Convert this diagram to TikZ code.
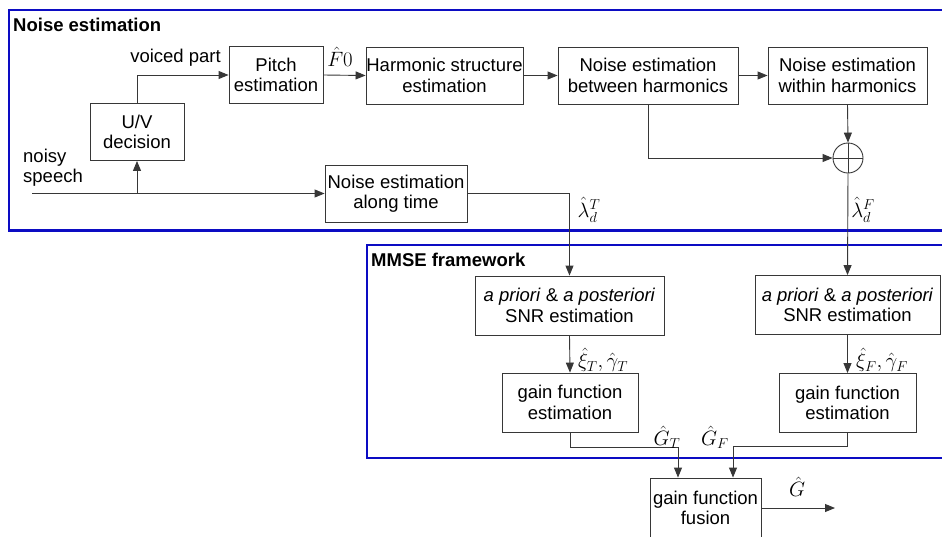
\documentclass[tikz,border=0pt]{standalone}
\usepackage{fontspec}
\setmainfont{Liberation Sans}
\usetikzlibrary{arrows.meta,calc,positioning}

\definecolor{framecol}{RGB}{12,12,195}
\definecolor{linecol}{RGB}{55,55,55}

\tikzset{
    blockbox/.style={draw=linecol, line width=0.9pt, align=center, inner sep=0pt, minimum height=57},
    arr/.style={draw=linecol, line width=0.9pt, -{Triangle[length=10pt,width=8pt]}},
    wire/.style={draw=linecol, line width=0.9pt},
    groupbox/.style={draw=framecol, line width=2.6pt},
    grouptitle/.style={anchor=west, inner sep=0pt},
    lbl/.style={inner sep=0pt},
    mathlbl/.style={inner sep=0pt, font=\fontsize{22}{24}\selectfont}
}

\begin{document}
\begin{tikzpicture}[x=1pt, y=-1pt, font=\fontsize{18.5}{20.5}\selectfont]
    \clip (0,0) rectangle (942,536);
    \fill[white] (0,0) rectangle (942,536);

    % Frames
    \draw[groupbox] (960,10) -- (9,10) -- (9,230.5) -- (960,230.5);
    \draw[groupbox] (960,245) -- (367,245) -- (367,458) -- (960,458);
    \node[grouptitle] (ttlnoise) at (13,25) {\bfseries Noise estimation};
    \node[grouptitle] (ttlmmse) at (371,260) {\bfseries MMSE framework};

    % Noise estimation blocks
    \node[blockbox, minimum width=94] (uv) at (137,132) {U/V\\decision};
    \node[blockbox, minimum width=94] (pitch) at (276,75) {Pitch\\estimation};
    \node[blockbox, minimum width=157] (harm) at (444.5,75.5) {Harmonic structure\\estimation};
    \node[blockbox, minimum width=180] (betw) at (648,75.5) {Noise estimation\\between harmonics};
    \node[blockbox, minimum width=159] (within) at (847.5,75.5) {Noise estimation\\within harmonics};
    \node[blockbox, minimum width=142] (alongt) at (396,193.5) {Noise estimation\\along time};
    \node[draw=linecol, line width=0.9pt, circle, minimum size=30, inner sep=0pt] (sum) at (848,158) {};
    \draw[wire] (sum.north) -- (sum.south) (sum.west) -- (sum.east);

    % MMSE blocks
    \node[blockbox, minimum width=189, minimum height=59] (snrT) at (569.5,305.5) {\textit{a priori} \& \textit{a posteriori}\\SNR estimation};
    \node[blockbox, minimum width=185, minimum height=59] (snrF) at (847.5,305) {\textit{a priori} \& \textit{a posteriori}\\SNR estimation};
    \node[blockbox, minimum width=136, minimum height=59] (gainT) at (570,402.5) {gain function\\estimation};
    \node[blockbox, minimum width=137, minimum height=59] (gainF) at (847.5,403) {gain function\\estimation};
    \node[blockbox, minimum width=111, minimum height=60] (fusion) at (705.5,508) {gain function\\fusion};

    % Input and free ends
    \coordinate (in) at (32,193.5);
    \coordinate (split) at (137,193.5);
    \coordinate (gout) at (835,508);
    \node[lbl, align=left, anchor=west] (noisy) at (23,167.5) {noisy\\speech};

    % Connectors
    \draw[arr] (in) -- (alongt.west);
    \draw[arr] (split) -- (uv.south);
    \draw[arr] (uv.north) |- (pitch.west);
    \draw[arr] (pitch.east) -- (harm.west);
    \draw[arr] (harm.east) -- (betw.west);
    \draw[arr] (betw.east) -- (within.west);
    \draw[arr] (within.south) -- (sum.north);
    \draw[arr] (betw.south) |- (sum.west);
    \draw[arr] (alongt.east) -| (snrT.north);
    \draw[arr] (sum.south) -- (snrF.north);
    \draw[arr] (snrT.south) -- (gainT.north);
    \draw[arr] (snrF.south) -- (gainF.north);
    \draw[arr] (gainT.south) -- ++(0,15) -| ($(fusion.north)+(-27.5,0)$);
    \draw[arr] (gainF.south) -- ++(0,13) -| ($(fusion.north)+(27.5,0)$);
    \draw[arr] (fusion.east) -- (gout);

    % Signal labels
    \node[lbl] (voiced) at (175.5,58) {voiced part};
    \node[mathlbl] (f0) at (340,57) {$\hat{F}0$};
    \node[mathlbl] (lamT) at (589,210) {$\hat{\lambda}_d^T$};
    \node[mathlbl] (lamF) at (863,210) {$\hat{\lambda}_d^F$};
    \node[mathlbl] (xgT) at (603,360) {$\hat{\xi}_T,\hat{\gamma}_T$};
    \node[mathlbl] (xgF) at (882,360) {$\hat{\xi}_F,\hat{\gamma}_F$};
    \node[mathlbl] (gT) at (667,437) {$\hat{G}_T$};
    \node[mathlbl] (gF) at (715,437) {$\hat{G}_F$};
    \node[mathlbl] (g) at (797,487) {$\hat{G}$};
\end{tikzpicture}
\end{document}
